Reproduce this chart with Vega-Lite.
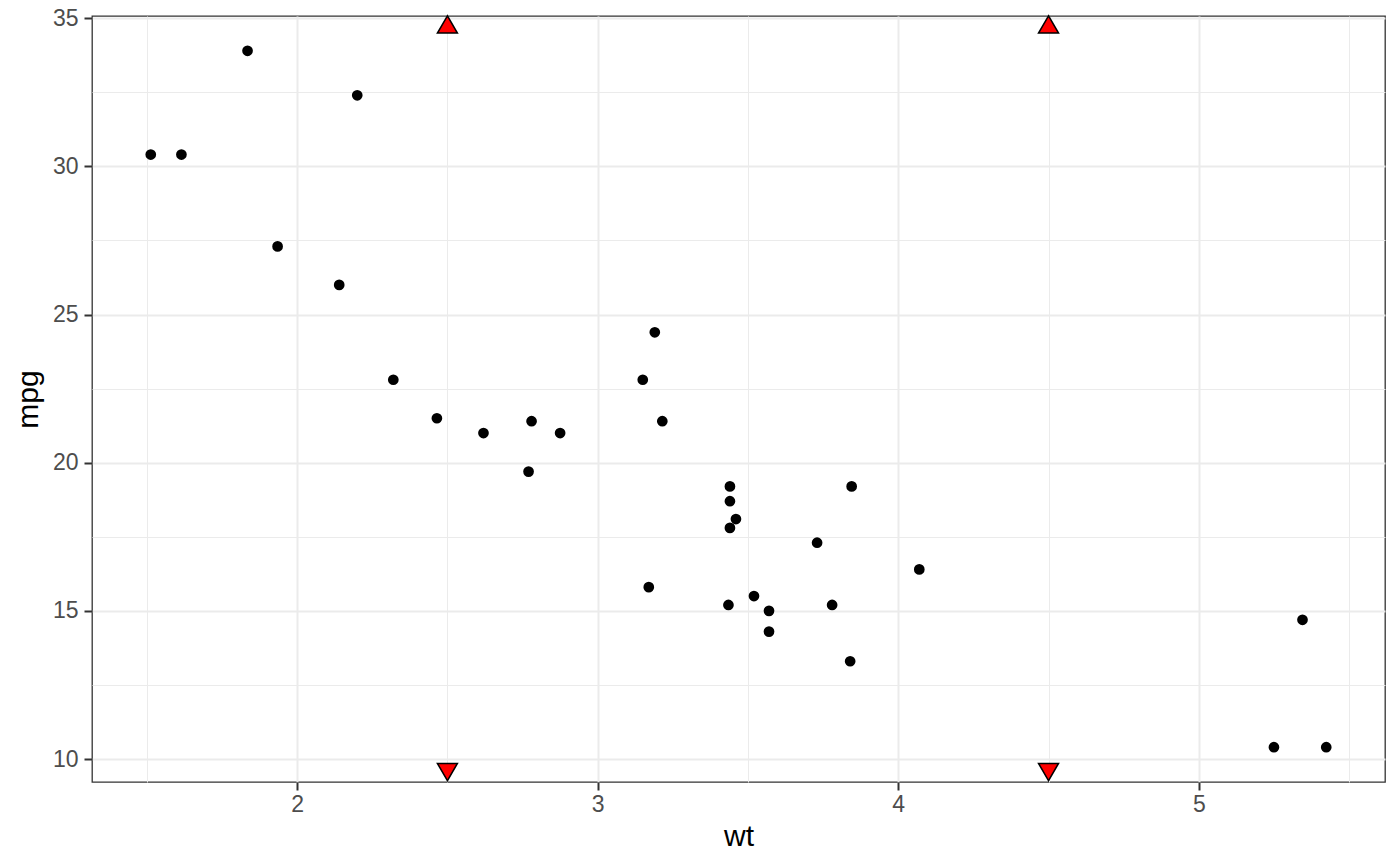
{
  "$schema": "https://vega.github.io/schema/vega-lite/v6.json",
  "width": 1293,
  "height": 766,
  "autosize": "none",
  "padding": {"left": 92, "top": 16, "right": 15, "bottom": 84},
  "config": {
    "font": "Liberation Sans",
    "view": {"stroke": "#333333", "strokeWidth": 1.3}
  },
  "datasets": {
    "cars": [
      {"car": "Mazda RX4", "wt": 2.62, "mpg": 21.0},
      {"car": "Mazda RX4 Wag", "wt": 2.875, "mpg": 21.0},
      {"car": "Datsun 710", "wt": 2.32, "mpg": 22.8},
      {"car": "Hornet 4 Drive", "wt": 3.215, "mpg": 21.4},
      {"car": "Hornet Sportabout", "wt": 3.44, "mpg": 18.7},
      {"car": "Valiant", "wt": 3.46, "mpg": 18.1},
      {"car": "Duster 360", "wt": 3.57, "mpg": 14.3},
      {"car": "Merc 240D", "wt": 3.19, "mpg": 24.4},
      {"car": "Merc 230", "wt": 3.15, "mpg": 22.8},
      {"car": "Merc 280", "wt": 3.44, "mpg": 19.2},
      {"car": "Merc 280C", "wt": 3.44, "mpg": 17.8},
      {"car": "Merc 450SE", "wt": 4.07, "mpg": 16.4},
      {"car": "Merc 450SL", "wt": 3.73, "mpg": 17.3},
      {"car": "Merc 450SLC", "wt": 3.78, "mpg": 15.2},
      {"car": "Cadillac Fleetwood", "wt": 5.25, "mpg": 10.4},
      {"car": "Lincoln Continental", "wt": 5.424, "mpg": 10.4},
      {"car": "Chrysler Imperial", "wt": 5.345, "mpg": 14.7},
      {"car": "Fiat 128", "wt": 2.2, "mpg": 32.4},
      {"car": "Honda Civic", "wt": 1.615, "mpg": 30.4},
      {"car": "Toyota Corolla", "wt": 1.835, "mpg": 33.9},
      {"car": "Toyota Corona", "wt": 2.465, "mpg": 21.5},
      {"car": "Dodge Challenger", "wt": 3.52, "mpg": 15.5},
      {"car": "AMC Javelin", "wt": 3.435, "mpg": 15.2},
      {"car": "Camaro Z28", "wt": 3.84, "mpg": 13.3},
      {"car": "Pontiac Firebird", "wt": 3.845, "mpg": 19.2},
      {"car": "Fiat X1-9", "wt": 1.935, "mpg": 27.3},
      {"car": "Porsche 914-2", "wt": 2.14, "mpg": 26.0},
      {"car": "Lotus Europa", "wt": 1.513, "mpg": 30.4},
      {"car": "Ford Pantera L", "wt": 3.17, "mpg": 15.8},
      {"car": "Ferrari Dino", "wt": 2.77, "mpg": 19.7},
      {"car": "Maserati Bora", "wt": 3.57, "mpg": 15.0},
      {"car": "Volvo 142E", "wt": 2.78, "mpg": 21.4}
    ],
    "flags": [
      {"wt": 2.5, "mpg": 34.79, "side": "top"},
      {"wt": 4.5, "mpg": 34.79, "side": "top"},
      {"wt": 2.5, "mpg": 9.56, "side": "bottom"},
      {"wt": 4.5, "mpg": 9.56, "side": "bottom"}
    ]
  },
  "layer": [
    {
      "data": {"name": "cars"},
      "mark": {"type": "circle", "color": "black", "opacity": 1, "size": 115},
      "encoding": {
        "x": {
          "field": "wt",
          "type": "quantitative",
          "scale": {"domain": [1.3175, 5.6195], "nice": false, "zero": false},
          "axis": {
            "orient": "bottom",
            "values": [1.5, 2.5, 3.5, 4.5, 5.5],
            "grid": true,
            "gridColor": "#ebebeb",
            "gridWidth": 1,
            "labels": false,
            "ticks": false,
            "domain": false,
            "title": null
          }
        },
        "y": {
          "field": "mpg",
          "type": "quantitative",
          "scale": {"domain": [9.225, 35.075], "nice": false, "zero": false},
          "axis": {
            "orient": "left",
            "values": [12.5, 17.5, 22.5, 27.5, 32.5],
            "grid": true,
            "gridColor": "#ebebeb",
            "gridWidth": 1,
            "labels": false,
            "ticks": false,
            "domain": false,
            "title": null
          }
        }
      }
    },
    {
      "data": {"name": "flags"},
      "mark": {"type": "point", "filled": true, "fill": "#ff0000", "stroke": "black", "strokeWidth": 1.5, "opacity": 1, "size": 400},
      "encoding": {
        "x": {
          "field": "wt",
          "type": "quantitative",
          "axis": {
            "orient": "bottom",
            "values": [2, 3, 4, 5],
            "grid": true,
            "gridColor": "#ebebeb",
            "gridWidth": 2,
            "domain": false,
            "tickColor": "#333333",
            "tickWidth": 2,
            "tickSize": 8,
            "labelColor": "#4d4d4d",
            "labelFontSize": 23,
            "labelPadding": 3,
            "title": "wt",
            "titleFontSize": 30,
            "titleFontWeight": "normal",
            "titleColor": "black",
            "titlePadding": 5
          }
        },
        "y": {
          "field": "mpg",
          "type": "quantitative",
          "axis": {
            "orient": "left",
            "values": [10, 15, 20, 25, 30, 35],
            "grid": true,
            "gridColor": "#ebebeb",
            "gridWidth": 2,
            "domain": false,
            "tickColor": "#333333",
            "tickWidth": 2,
            "tickSize": 8,
            "labelColor": "#4d4d4d",
            "labelFontSize": 23,
            "labelPadding": 6,
            "title": "mpg",
            "titleFontSize": 30,
            "titleFontWeight": "normal",
            "titleColor": "black",
            "titlePadding": 9
          }
        },
        "shape": {
          "field": "side",
          "type": "nominal",
          "scale": {"domain": ["top", "bottom"], "range": ["triangle-up", "triangle-down"]},
          "legend": null
        }
      }
    }
  ],
  "resolve": {"axis": {"x": "independent", "y": "independent"}}
}
